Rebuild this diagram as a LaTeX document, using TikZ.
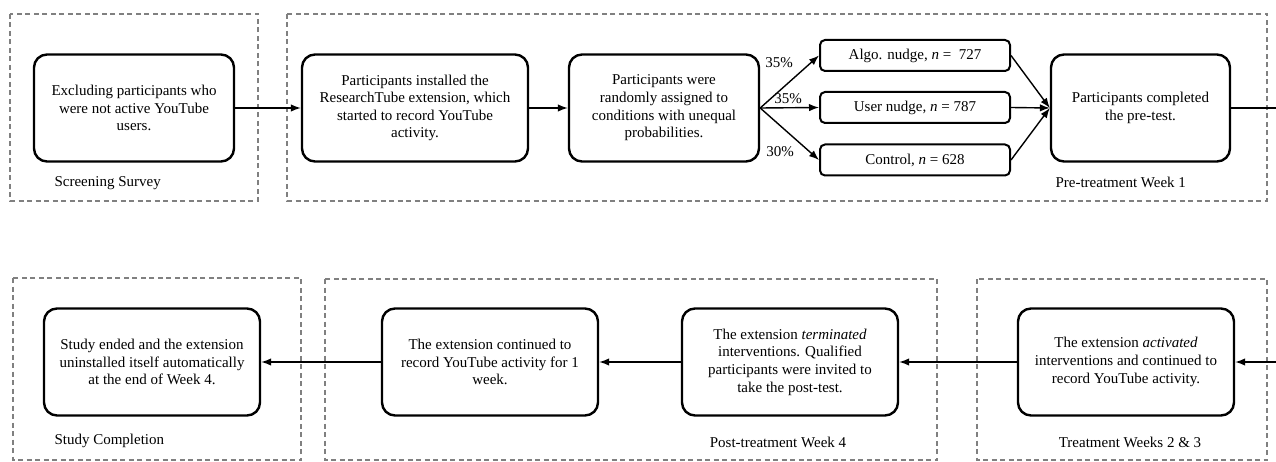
\documentclass[tikz,border=0pt]{standalone}
\usepackage{fontspec}
\setmainfont{Liberation Serif}
\usetikzlibrary{arrows.meta}

\begin{document}
\begin{tikzpicture}[x=1pt, y=-1pt, font=\fontsize{15}{17.6}\selectfont,
  stage/.style={draw, line width=2.4pt, rounded corners=13pt, align=center, inner sep=0pt, minimum height=107pt, minimum width=#1},
  cond/.style={draw, line width=2pt, rounded corners=5pt, align=center, inner sep=0pt, minimum height=31pt, minimum width=190pt},
  group/.style={draw=black!50, line width=1.2pt, dash pattern=on 5pt off 3.5pt},
  flow/.style={line width=1.4pt, -{Latex[length=10pt,width=7.5pt]}}]
\useasboundingbox (0,0) rectangle (1276,462);
% dashed phase frames
\draw[group] (10,14) rectangle (258,201);
\draw[group] (287,14) rectangle (1267,201);
\draw[group] (13,278) rectangle (301,460);
\draw[group] (325,279) rectangle (937,460);
\draw[group] (977,279) rectangle (1267,460);
\node[anchor=west] (screen) at (51,183) {Screening Survey};
\node[anchor=west] (week1) at (1052,182) {Pre-treatment Week 1};
\node[anchor=west] (done) at (51,441) {Study Completion};
\node (week4) at (778,442) {Post-treatment Week 4};
\node (week23) at (1130,442) {Treatment Weeks 2 \& 3};
% top row
\node[stage=200pt] (excl) at (134,108) {Excluding participants who\\were not active YouTube\\users.};
\node[stage=226pt] (inst) at (415,108) {Participants installed the\\ResearchTube extension, which\\started to record YouTube\\activity.};
\node[stage=190pt] (rand) at (664,108) {Participants were\\randomly assigned to\\conditions with unequal\\probabilities.};
\node[cond] (algo) at (915,55.5) {Algo. nudge, \textit{n} =~~727};
\node[cond] (user) at (915,107.5) {User nudge, \textit{n} = 787};
\node[cond] (ctrl) at (915,160) {Control, \textit{n} = 628};
\node[stage=179pt] (pre) at (1140.5,108) {Participants completed\\the pre-test.};
\coordinate (outR) at (1276,108);
\draw[flow] (excl) -- (inst);
\draw[flow] (inst) -- (rand);
\draw[flow] (rand.east) -- (algo.west);
\draw[flow] (rand.east) -- (user.west);
\draw[flow] (rand.east) -- (ctrl.west);
\node (p1) at (779,63) {35\%};
\node (p2) at (788,99) {35\%};
\node (p3) at (780,152) {30\%};
\draw[flow] (algo.east) -- (pre.west);
\draw[flow] (user.east) -- (pre.west);
\draw[flow] (ctrl.east) -- (pre.west);
\draw[flow, -] (pre) -- (outR);
% bottom row
\node[stage=216pt] (endst) at (152,362) {Study ended and the extension\\uninstalled itself automatically\\at the end of Week 4.};
\node[stage=216pt] (cont) at (490,362) {The extension continued to\\record YouTube activity for 1\\week.};
\node[stage=216pt] (term) at (790,362) {The extension \textit{terminated}\\interventions. Qualified\\participants were invited to\\take the post-test.};
\node[stage=216pt] (act) at (1126,362) {The extension \textit{activated}\\interventions and continued to\\record YouTube activity.};
\coordinate (inR) at (1276,362);
\draw[flow] (inR) -- (act);
\draw[flow] (act) -- (term);
\draw[flow] (term) -- (cont);
\draw[flow] (cont) -- (endst);
\end{tikzpicture}
\end{document}
